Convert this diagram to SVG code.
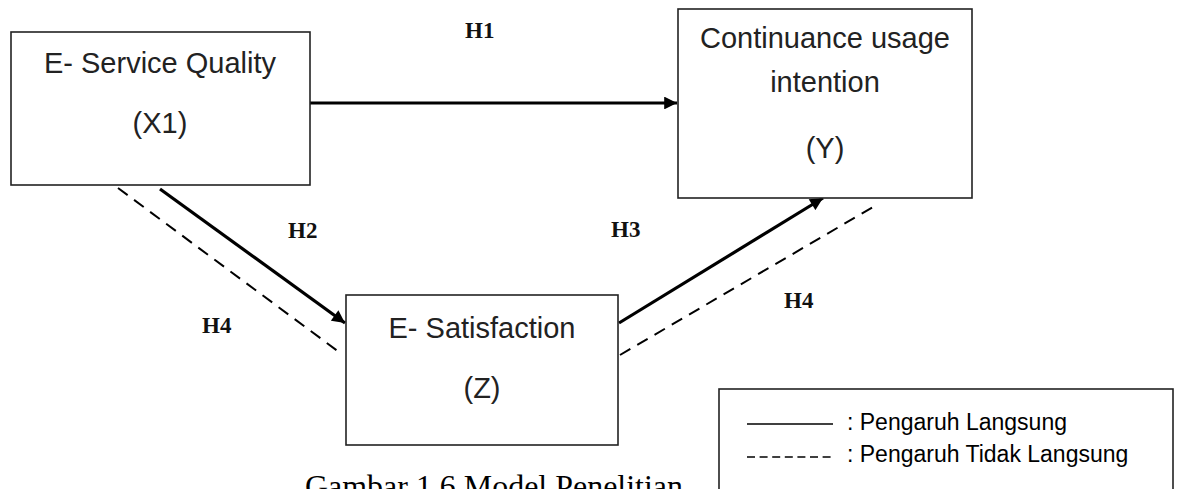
<svg xmlns="http://www.w3.org/2000/svg" width="1181" height="489" viewBox="0 0 1181 489">
<style>
.box{fill:#fff;stroke:#222;stroke-width:1.6}
.t{font-family:"Liberation Sans",Arial,sans-serif;font-size:29px;fill:#222;text-anchor:middle}
.h{font-family:"Liberation Serif","Times New Roman",serif;font-size:23px;font-weight:bold;fill:#111}
.solid{stroke:#000;stroke-width:3.2;fill:none}
.dash{stroke:#000;stroke-width:2;fill:none;stroke-dasharray:12 8}
.leg{font-family:"Liberation Sans",Arial,sans-serif;font-size:23px;fill:#000}
.cap{font-family:"Liberation Serif","Times New Roman",serif;font-size:32px;fill:#000}
</style>
<defs>
<marker id="ah" viewBox="0 0 10 10" refX="10" refY="5" markerWidth="4.6" markerHeight="4" orient="auto" markerUnits="strokeWidth">
<path d="M0,0 L10,5 L0,10 Z" fill="#000"/>
</marker>
</defs>
<rect width="1181" height="489" fill="#fff"/>
<g id="connectors">
<line class="solid" x1="310" y1="103" x2="677" y2="103" marker-end="url(#ah)"/>
<line class="solid" x1="160" y1="189" x2="345" y2="323" marker-end="url(#ah)"/>
<line class="solid" x1="619" y1="323" x2="823" y2="198" marker-end="url(#ah)"/>
<line class="dash" x1="118" y1="188" x2="339" y2="352"/>
<line class="dash" x1="620" y1="355" x2="873" y2="207"/>
</g>
<g id="node-x1">
<rect class="box" x="11" y="32" width="299" height="153"/>
<text class="t" x="160" y="73">E- Service Quality</text>
<text class="t" x="160" y="133">(X1)</text>
</g>
<g id="node-y">
<rect class="box" x="678" y="9" width="294" height="189"/>
<text class="t" x="825" y="48">Continuance usage</text>
<text class="t" x="825" y="92">intention</text>
<text class="t" x="825" y="158">(Y)</text>
</g>
<g id="node-z">
<rect class="box" x="346" y="295" width="272" height="150"/>
<text class="t" x="482" y="338">E- Satisfaction</text>
<text class="t" x="482" y="398">(Z)</text>
</g>
<g id="labels">
<text class="h" x="465" y="38">H1</text>
<text class="h" x="288" y="238">H2</text>
<text class="h" x="611" y="237">H3</text>
<text class="h" x="202" y="333">H4</text>
<text class="h" x="784" y="308">H4</text>
</g>
<g id="legend">
<rect class="box" x="719" y="389" width="454" height="120"/>
<line x1="747" y1="424" x2="833" y2="424" stroke="#000" stroke-width="1.5"/>
<line x1="747" y1="457" x2="833" y2="457" stroke="#000" stroke-width="1.5" stroke-dasharray="8 4.6"/>
<text class="leg" x="847" y="430">: Pengaruh Langsung</text>
<text class="leg" x="847" y="462">: Pengaruh Tidak Langsung</text>
</g>
<g id="caption">
<text class="cap" x="305" y="497" textLength="378" lengthAdjust="spacingAndGlyphs">Gambar 1.6 Model Penelitian</text>
</g>
</svg>
